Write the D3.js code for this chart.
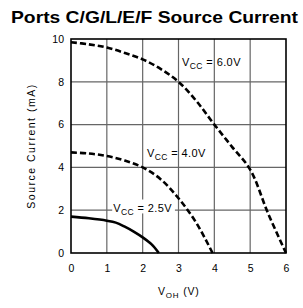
<!DOCTYPE html>
<html>
<head>
<meta charset="utf-8">
<script src="https://cdn.jsdelivr.net/npm/d3@7"></script>
<style>
  html, body { margin: 0; padding: 0; background: #fff; }
  svg { display: block; }
</style>
</head>
<body>
<script>
const titleText = "Ports C/G/L/E/F Source Current";
const xTicks = [0, 1, 2, 3, 4, 5, 6];
const yTicks = [0, 2, 4, 6, 8, 10];

const vohVcc60 = [0, 0.5, 1, 1.5, 2, 2.5, 3, 3.5, 4, 4.5, 5, 5.5, 6];
const currVcc60 = [9.85, 9.75, 9.6, 9.35, 9.05, 8.6, 8.0, 7.1, 6.0, 4.95, 3.9, 1.85, 0];

const vohVcc40 = [0, 0.5, 1, 1.5, 2, 2.5, 3, 3.5, 3.95];
const currVcc40 = [4.7, 4.65, 4.53, 4.32, 4.0, 3.45, 2.56, 1.4, 0];

const vohVcc25 = [0, 0.5, 1, 1.25, 1.5, 1.75, 2, 2.25, 2.45];
const currVcc25 = [1.7, 1.62, 1.51, 1.42, 1.23, 1.0, 0.73, 0.4, 0];

const curveLabels = ["6.0V", "4.0V", "2.5V"];

const W = 303, H = 308;
const svg = d3.select("body").append("svg").attr("width", W).attr("height", H);

const x = d3.scaleLinear().domain([0, 6]).range([71, 286]);
const y = d3.scaleLinear().domain([0, 10]).range([253, 39]);

const FONT = "'Liberation Sans', Arial, Helvetica, sans-serif";

// title
svg.append("text")
  .attr("x", 11).attr("y", 23)
  .attr("font-family", FONT)
  .attr("font-weight", "bold")
  .attr("font-size", 17)
  .attr("textLength", 287)
  .attr("lengthAdjust", "spacingAndGlyphs")
  .attr("fill", "#000")
  .text(titleText);

// grid
const grid = svg.append("g").attr("stroke", "#666").attr("stroke-width", 1.2);
grid.selectAll(".vx").data(xTicks.slice(1, -1)).join("line")
  .attr("x1", d => x(d)).attr("x2", d => x(d))
  .attr("y1", y(0)).attr("y2", y(10));
grid.selectAll(".hy").data(yTicks.slice(1, -1)).join("line")
  .attr("x1", x(0)).attr("x2", x(6))
  .attr("y1", d => y(d)).attr("y2", d => y(d));

// axes (labels only)
const axL = svg.append("g").attr("transform", `translate(${x(0)},0)`)
  .call(d3.axisLeft(y).tickValues(yTicks).tickFormat(d3.format("d")).tickSize(0).tickPadding(7));
const axB = svg.append("g").attr("transform", `translate(0,${y(0)})`)
  .call(d3.axisBottom(x).tickValues(xTicks).tickFormat(d3.format("d")).tickSize(0).tickPadding(12));
[axL, axB].forEach(a => {
  a.select(".domain").remove();
  a.selectAll("text").attr("font-family", FONT).attr("font-size", 10.5).attr("fill", "#000");
});

// curves
const line = d3.line().x(d => x(d[0])).y(d => y(d[1])).curve(d3.curveCatmullRom.alpha(0.5));
const series = [
  { xs: vohVcc60, ys: currVcc60, dash: "6,3" },
  { xs: vohVcc40, ys: currVcc40, dash: "6,3" },
  { xs: vohVcc25, ys: currVcc25, dash: null }
];

// label for 2.5V has white background covering the grid line
svg.append("rect").attr("x", x(1.15)).attr("y", y(2.5)).attr("width", x(2.9) - x(1.15)).attr("height", y(1.85) - y(2.5)).attr("fill", "#fff");

series.forEach(s => {
  const pts = s.xs.map((v, i) => [v, s.ys[i]]);
  svg.append("path").datum(pts)
    .attr("d", line)
    .attr("fill", "none")
    .attr("stroke", "#000")
    .attr("stroke-width", 2.6)
    .attr("stroke-dasharray", s.dash);
});

// frame
svg.append("rect")
  .attr("x", x(0)).attr("y", y(10))
  .attr("width", x(6) - x(0)).attr("height", y(0) - y(10))
  .attr("fill", "none").attr("stroke", "#000").attr("stroke-width", 1.6);

// curve labels
const labelPos = [[3.1, 8.73], [2.12, 4.5], [1.18, 1.92]];
curveLabels.forEach((lab, i) => {
  const t = svg.append("text")
    .attr("x", x(labelPos[i][0])).attr("y", y(labelPos[i][1]))
    .attr("font-family", FONT).attr("font-size", 11).attr("fill", "#000")
    .attr("letter-spacing", 0.4);
  t.append("tspan").text("V");
  t.append("tspan").attr("font-size", 8.5).attr("dy", 3).text("CC");
  t.append("tspan").attr("dy", -3).text(" = " + lab);
});

// x title
const xt = svg.append("text").attr("x", 158).attr("y", 295)
  .attr("font-family", FONT).attr("font-size", 10.5).attr("fill", "#000").attr("letter-spacing", 0.8);
xt.append("tspan").text("V");
xt.append("tspan").attr("font-size", 8).attr("dy", 3).text("OH");
xt.append("tspan").attr("dy", -3).text(" (V)");

// y title
svg.append("text")
  .attr("transform", "translate(35,146) rotate(-90)")
  .attr("text-anchor", "middle")
  .attr("font-family", FONT).attr("font-size", 10.5).attr("fill", "#000")
  .attr("letter-spacing", 1.5)
  .text("Source Current (mA)");
</script>
</body>
</html>
